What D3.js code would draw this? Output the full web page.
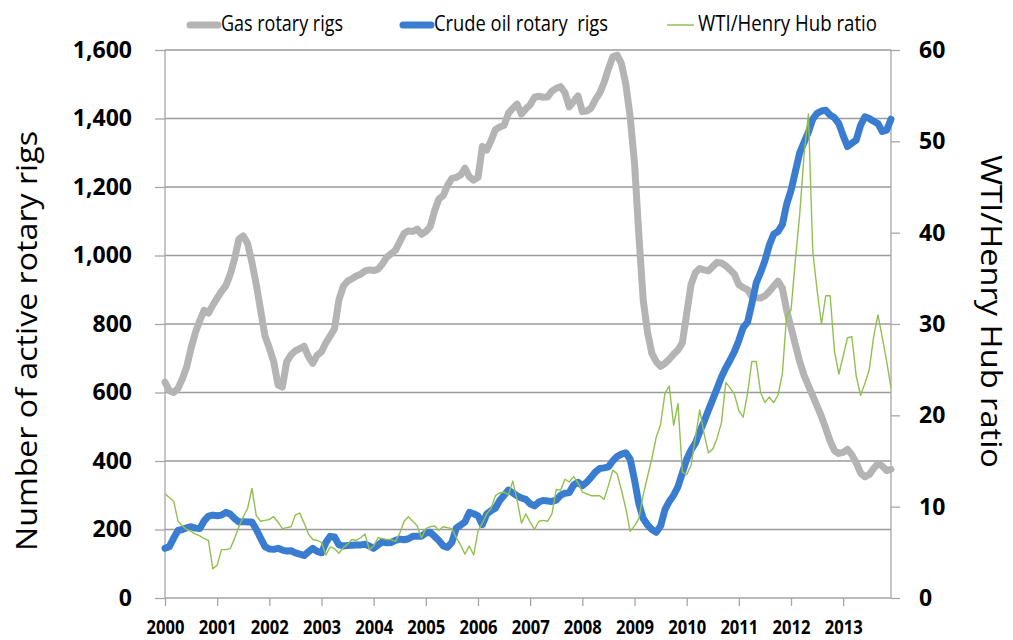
<!DOCTYPE html>
<html>
<head>
<meta charset="utf-8">
<script src="https://cdn.jsdelivr.net/npm/d3@7"></script>
<style>
  body { margin: 0; background: #fff; }
  text { font-family: "Open Sans", "DejaVu Sans", sans-serif; fill: #000; }
</style>
</head>
<body>
<div id="chart"></div>
<script>
(function() {

  let width  = 1013,
      height = 640;

  // monthly values, Jan 2000 .. Dec 2013 (12 per row)
  let gasRigs = [
    630, 605, 600, 612, 640, 675, 730, 775, 810, 840, 832, 855,
    876, 895, 912, 945, 990, 1048, 1057, 1035, 980, 915, 840, 765,
    730, 690, 622, 616, 690, 710, 722, 728, 735, 705, 685, 709,
    719, 745, 765, 787, 870, 910, 925, 932, 940, 945, 955, 958,
    956, 960, 975, 995, 1005, 1015, 1040, 1065, 1072, 1070, 1077, 1062,
    1070, 1084, 1130, 1165, 1175, 1205, 1225, 1228, 1235, 1255, 1230, 1220,
    1228, 1318, 1308, 1335, 1368, 1375, 1380, 1415, 1430, 1442, 1413, 1428,
    1440, 1462, 1465, 1462, 1463, 1480, 1488, 1493, 1475, 1434, 1450, 1466,
    1420, 1422, 1430, 1455, 1474, 1505, 1545, 1580, 1585, 1560, 1500, 1405,
    1270, 1060, 870, 775, 714, 690, 676, 685, 697, 712, 724, 745,
    830, 915, 950, 962, 958, 955, 968, 980, 978, 970, 958, 945,
    915, 906, 900, 880, 877, 876, 882, 895, 910, 925, 905, 840,
    790, 740, 690, 650, 620, 590, 560, 530, 495, 458, 430, 422,
    425, 434, 418, 395, 365, 354, 360, 378, 393, 385, 372, 376
  ];

  let oilRigs = [
    145, 150, 175, 197, 200, 205, 208, 204, 203, 225, 239, 242,
    240, 242, 250, 245, 232, 222, 223, 222, 222, 200, 175, 150,
    143, 142, 145, 140, 137, 138, 132, 128, 124, 135, 145, 136,
    132, 162, 180, 178, 155, 152, 153, 154, 155, 155, 157, 152,
    145, 155, 164, 161, 162, 168, 172, 170, 173, 180, 180, 180,
    190, 192, 180, 168, 152, 148, 163, 204, 213, 222, 250, 246,
    240, 214, 245, 255, 262, 285, 300, 315, 307, 298, 292, 288,
    275, 269, 280, 285, 283, 282, 286, 300, 306, 308, 330, 338,
    328, 338, 352, 368, 378, 380, 383, 400, 413, 420, 424, 405,
    345, 275, 232, 213, 200, 192, 210, 258, 282, 300, 325, 365,
    405, 432, 452, 485, 515, 548, 580, 612, 645, 672, 695, 720,
    752, 790, 805, 860, 920, 950, 985, 1030, 1062, 1070, 1090, 1150,
    1190, 1245, 1300, 1330, 1360, 1398, 1415, 1422, 1424, 1410, 1402, 1385,
    1350, 1318, 1328, 1337, 1380, 1405, 1400, 1392, 1385, 1362, 1366, 1398
  ];

  let wtiHenryRatio = [
    11.4, 11.0, 10.6, 8.4, 7.9, 7.5, 7.3, 7.0, 6.8, 6.5, 6.3, 3.2,
    3.6, 5.3, 5.3, 5.4, 6.5, 7.8, 8.9, 9.8, 12.0, 9.0, 8.4, 8.5,
    8.6, 8.9, 8.3, 7.6, 7.7, 7.8, 9.1, 9.3, 8.2, 7.0, 6.4, 6.3,
    6.1, 4.7, 5.6, 5.4, 4.9, 5.5, 5.9, 6.4, 6.3, 6.6, 7.0, 5.3,
    5.7, 6.6, 6.5, 6.4, 6.4, 6.2, 7.1, 8.4, 8.9, 8.4, 7.9, 6.6,
    7.6, 7.8, 7.9, 7.4, 7.8, 7.7, 7.6, 6.6, 5.8, 4.8, 5.7, 4.7,
    7.3, 8.2, 9.2, 9.8, 11.2, 11.5, 11.6, 11.3, 12.8, 10.7, 8.2, 9.2,
    8.3, 7.5, 8.4, 8.5, 8.4, 9.2, 11.9, 11.8, 13.0, 12.7, 13.3, 12.6,
    11.6, 11.4, 11.2, 11.2, 11.2, 10.8, 12.3, 14.0, 13.6, 11.8, 9.8, 7.3,
    7.9, 8.7, 11.3, 13.3, 15.3, 17.6, 19.0, 22.4, 23.2, 18.9, 21.3, 13.8,
    13.5, 14.5, 17.5, 20.6, 18.0, 15.9, 16.3, 17.5, 19.2, 23.6, 23.0, 22.3,
    20.5, 19.8, 22.4, 25.9, 25.9, 22.5, 21.4, 22.0, 21.4, 22.2, 24.5, 31.0,
    31.5, 37.0, 42.0, 48.5, 53.0, 38.0, 33.7, 30.0, 33.1, 33.1, 27.0, 24.5,
    26.5, 28.5, 28.6, 24.3, 22.2, 23.5, 25.0, 28.6, 31.0, 28.5, 25.9, 23.0
  ];

  let yearLabels  = ["2000", "2001", "2002", "2003", "2004", "2005", "2006",
                     "2007", "2008", "2009", "2010", "2011", "2012", "2013"];
  let rigTicks    = [0, 200, 400, 600, 800, 1000, 1200, 1400, 1600];
  let ratioTicks  = [0, 10, 20, 30, 40, 50, 60];

  let legendItems = [
    { name: "Gas rotary rigs",        color: "#b4b4b4", w: 7,   len: 122 },
    { name: "Crude oil rotary  rigs", color: "#3a7dd0", w: 7,   len: 174 },
    { name: "WTI/Henry Hub ratio",    color: "#92c050", w: 1.5, len: 179 }
  ];

  let left = 165, right = 891, top = 50, bottom = 598;

  let svg = d3.select("#chart")
    .append("svg")
    .attr("width", width)
    .attr("height", height);

  // scales
  let x = d3.scaleLinear()
    .domain([0, gasRigs.length - 1])
    .range([left, right]);

  let yLeft = d3.scaleLinear()
    .domain([0, 1600])
    .range([bottom, top]);

  let yRight = d3.scaleLinear()
    .domain([0, 60])
    .range([bottom, top]);

  // horizontal gridlines
  svg.append("g")
    .selectAll("line")
    .data(rigTicks.slice(1))
    .enter().append("line")
    .attr("x1", left)
    .attr("x2", right)
    .attr("y1", d => yLeft(d))
    .attr("y2", d => yLeft(d))
    .attr("stroke", "#9a9a9a")
    .attr("stroke-width", 1.3);

  // left axis
  let axisL = svg.append("g")
    .attr("transform", `translate(${left},0)`)
    .call(d3.axisLeft(yLeft)
      .tickValues(rigTicks)
      .tickFormat(d3.format(","))
      .tickSize(10)
      .tickPadding(23));

  // right axis
  let axisR = svg.append("g")
    .attr("transform", `translate(${right},0)`)
    .call(d3.axisRight(yRight)
      .tickValues(ratioTicks)
      .tickSize(9)
      .tickPadding(19));

  [axisL, axisR].forEach(g => {
    g.selectAll("text")
      .style("font-size", "23px")
      .style("font-weight", "bold")
      .attr("fill", "#000");
  });

  // bottom axis, one tick per January
  let axisB = svg.append("g")
    .attr("transform", `translate(0,${bottom})`)
    .call(d3.axisBottom(x)
      .tickValues(yearLabels.map((d, i) => i * 12))
      .tickFormat((d, i) => yearLabels[i])
      .tickSize(8));

  axisB.selectAll("text")
    .attr("y", 22)
    .attr("transform", "scale(0.83,1)")
    .style("font-size", "20px")
    .style("font-weight", "bold")
    .attr("fill", "#000");

  [axisL, axisR, axisB].forEach(g => {
    g.selectAll("path, line")
      .attr("stroke", "#a6a6a6")
      .attr("stroke-width", 1.3);
    g.select(".domain").attr("d", null);
  });

  // axis lines drawn separately (no end caps)
  svg.append("line")
    .attr("x1", left).attr("x2", left)
    .attr("y1", top).attr("y2", bottom)
    .attr("stroke", "#a6a6a6").attr("stroke-width", 1.3);
  svg.append("line")
    .attr("x1", right).attr("x2", right)
    .attr("y1", top).attr("y2", bottom)
    .attr("stroke", "#a6a6a6").attr("stroke-width", 1.3);
  svg.append("line")
    .attr("x1", left).attr("x2", right)
    .attr("y1", bottom).attr("y2", bottom)
    .attr("stroke", "#a6a6a6").attr("stroke-width", 1.3);

  // lines
  let lineLeft = d3.line()
    .x((d, i) => x(i))
    .y(d => yLeft(d));

  let lineRight = d3.line()
    .x((d, i) => x(i))
    .y(d => yRight(d));

  svg.append("path")
    .attr("d", lineLeft(gasRigs))
    .attr("fill", "none")
    .attr("stroke", legendItems[0].color)
    .attr("stroke-width", 7)
    .attr("stroke-linejoin", "round")
    .attr("stroke-linecap", "round");

  svg.append("path")
    .attr("d", lineLeft(oilRigs))
    .attr("fill", "none")
    .attr("stroke", legendItems[1].color)
    .attr("stroke-width", 7)
    .attr("stroke-linejoin", "round")
    .attr("stroke-linecap", "round");

  svg.append("path")
    .attr("d", lineRight(wtiHenryRatio))
    .attr("fill", "none")
    .attr("stroke", legendItems[2].color)
    .attr("stroke-width", 1.4)
    .attr("stroke-linejoin", "round");

  // axis titles
  svg.append("text")
    .attr("transform", `translate(37,${(130 + 552) / 2}) rotate(-90)`)
    .attr("text-anchor", "middle")
    .attr("textLength", 420)
    .attr("lengthAdjust", "spacingAndGlyphs")
    .style("font-size", "30px")
    .text("Number of active rotary rigs");

  svg.append("text")
    .attr("transform", `translate(981,${(155 + 468) / 2}) rotate(90)`)
    .attr("text-anchor", "middle")
    .attr("textLength", 313)
    .attr("lengthAdjust", "spacingAndGlyphs")
    .style("font-size", "30px")
    .text("WTI/Henry Hub ratio");

  // legend
  let legendX = [187, 400, 667];
  let legend = svg.append("g")
    .selectAll("g")
    .data(legendItems)
    .enter().append("g")
    .attr("transform", (d, i) => `translate(${legendX[i]},0)`);

  legend.append("line")
    .attr("x1", (d, i) => i == 2 ? 0 : 3)
    .attr("x2", (d, i) => i == 2 ? 27 : 31)
    .attr("y1", 25)
    .attr("y2", 25)
    .attr("stroke", d => d.color)
    .attr("stroke-width", d => d.w)
    .attr("stroke-linecap", (d, i) => i == 2 ? "butt" : "round");

  legend.append("text")
    .attr("x", (d, i) => i == 2 ? 31 : 34)
    .attr("y", 31)
    .attr("textLength", d => d.len)
    .attr("lengthAdjust", "spacingAndGlyphs")
    .style("font-size", "21px")
    .style("white-space", "pre")
    .text(d => d.name);

})();
</script>
</body>
</html>
